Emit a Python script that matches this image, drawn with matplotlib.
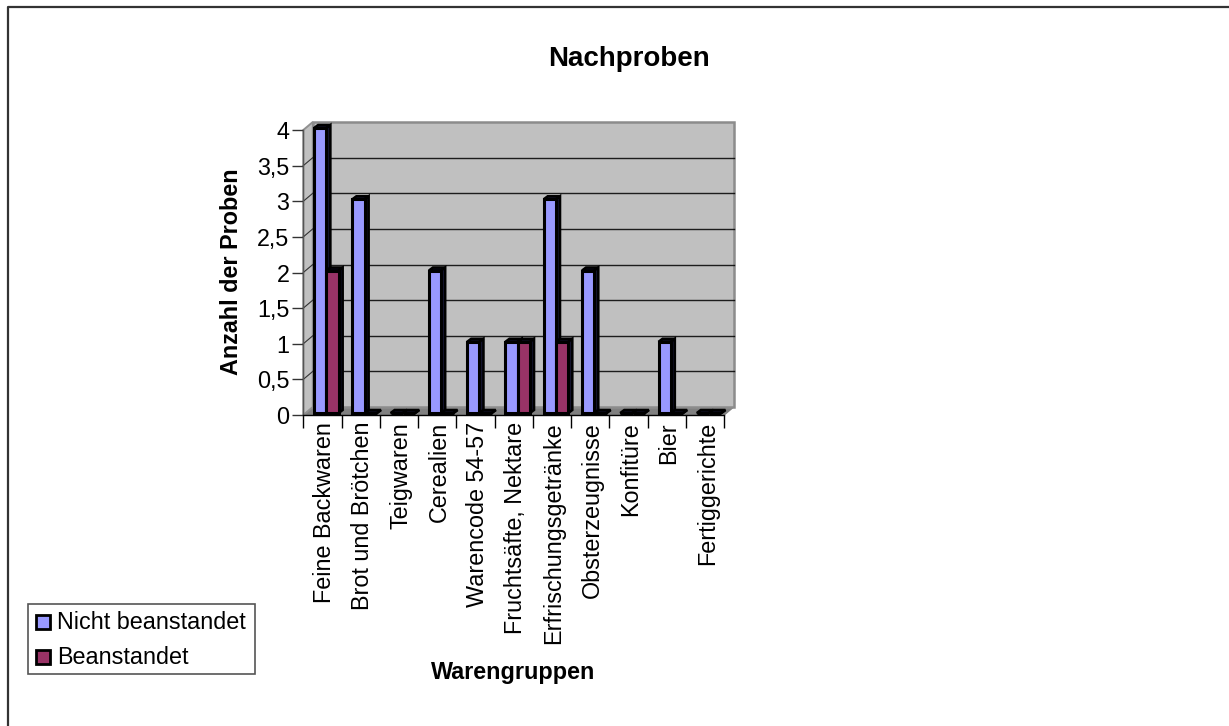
import numpy as np
import matplotlib
matplotlib.use("Agg")
import matplotlib.pyplot as plt
from matplotlib.lines import Line2D
from matplotlib.patches import Polygon, Rectangle
from matplotlib.transforms import ScaledTranslation

plt.rcParams['font.family'] = ['Liberation Sans', 'DejaVu Sans']

# Data
categories = ["Feine Backwaren", "Brot und Brötchen", "Teigwaren", "Cerealien",
              "Warencode 54-57", "Fruchtsäfte, Nektare", "Erfrischungsgetränke",
              "Obsterzeugnisse", "Konfitüre", "Bier", "Fertiggerichte"]
nicht_beanstandet = [4, 3, 0, 2, 1, 1, 3, 2, 0, 1, 0]
beanstandet = [2, 0, 0, 0, 0, 1, 1, 0, 0, 0, 0]
y_ticks = [0, 0.5, 1, 1.5, 2, 2.5, 3, 3.5, 4]
y_labels = ["0", "0,5", "1", "1,5", "2", "2,5", "3", "3,5", "4"]

W, H = 1229, 726
BLUE = "#9999ff"
RED = "#993366"
WALL = "#c0c0c0"
EDGE = "#808080"
FS = 16.8

fig = plt.figure(figsize=(W / 100, H / 100), dpi=100, facecolor="white")

# outer frame of the chart, only top and left are inside the picture
fig.add_artist(Line2D([8 / W, 8 / W, 1], [0, 1 - 7 / H, 1 - 7 / H], transform=fig.transFigure,
                      color="#333333", lw=1.6))

# front plane of the 3d box
left, right, top, bottom = 303.3, 724.3, 130, 415
ax = fig.add_axes([left / W, 1 - bottom / H, (right - left) / W, (bottom - top) / H])
ax.set_xlim(0, len(categories))
ax.set_ylim(0, 4)
ax.patch.set_visible(False)
for s in ax.spines.values():
    s.set_visible(False)

px = len(categories) / (right - left)
py = 4 / (bottom - top)
dx, dy = 9.5 * px, 8 * py
n = len(categories)


def poly(pts, **kw):
    ax.add_patch(Polygon(pts, closed=True, clip_on=False, **kw))


# walls and floor
poly([(0, 0), (dx, dy), (n + dx, dy), (n, 0)], fc=EDGE, ec=EDGE, lw=0.8, zorder=1)
poly([(0, 0), (dx, dy), (dx, 4 + dy), (0, 4)], fc=WALL, ec="#909090", lw=1.4, zorder=1)
poly([(dx, dy), (n + dx, dy), (n + dx, 4 + dy), (dx, 4 + dy)], fc=WALL, ec="#8c8c8c", lw=1.8, zorder=1)

# gridlines on the back wall and the slanted bit on the side wall
for v in y_ticks[1:-1]:
    ax.plot([dx, n + dx], [v + dy, v + dy], color="black", lw=1.0, alpha=0.85, clip_on=False, zorder=2)
    ax.plot([0, dx], [v, v + dy], color="#333333", lw=0.8, clip_on=False, zorder=2)

# bars
bar_w = 12.3 * px
off = 10.8 * px
by = 2.0 * py
cx, cy = 4.0 * px, 3.0 * py


def bar(x, v, color):
    x1 = x + bar_w
    y1 = v + by
    # top cap and side face
    poly([(x, y1), (x + cx, y1 + cy), (x1 + cx, y1 + cy), (x1, y1)], fc="#14142e", ec="black", lw=1.8, zorder=3)
    poly([(x1, by), (x1 + cx, by + cy), (x1 + cx, y1 + cy), (x1, y1)], fc="#14142e", ec="black", lw=1.8, zorder=3)
    ax.bar(x, v, width=bar_w, bottom=by, align="edge", color=color, edgecolor="black", lw=2.2,
           clip_on=False, zorder=4)


for i in range(n):
    bar(i + off, nicht_beanstandet[i], BLUE)
    bar(i + off + bar_w, beanstandet[i], RED)

# axes
ax.plot([0, 0], [0, 4], color="#555555", lw=1, clip_on=False, zorder=5)
ax.plot([0, n], [0, 0], color="black", lw=1, clip_on=False, zorder=5)
ax.set_yticks(y_ticks)
ax.set_yticklabels(y_labels, fontsize=FS)
ax.set_xticks(np.arange(n + 1))
ax.set_xticklabels([])
ax.set_xticks(np.arange(n) + 0.5, minor=True)
ax.set_xticklabels(categories, minor=True, rotation=90, fontsize=FS, va="top", ha="center")
ax.tick_params(axis="y", length=8, width=1, color="#333333", pad=2)
ax.tick_params(axis="x", which="major", length=9, width=1, direction="out")
ax.tick_params(axis="x", which="minor", length=0, pad=5)
# category labels sit a little right of the tick centre
shift = ScaledTranslation(2 / 100, 0, fig.dpi_scale_trans)
for lab in ax.get_xticklabels(minor=True):
    lab.set_transform(lab.get_transform() + shift)

fig.text(629.5 / W, 1 - 59.5 / H, "Nachproben", fontsize=20, fontweight="bold", ha="center", va="center")
fig.text(513 / W, 1 - 673 / H, "Warengruppen", fontsize=FS, fontweight="bold", ha="center", va="center")
fig.text(231 / W, 1 - 272 / H, "Anzahl der Proben", fontsize=FS, fontweight="bold", rotation=90,
         ha="center", va="center")

# legend
fig.add_artist(Rectangle((28 / W, 1 - 674 / H), 226.5 / W, 70 / H, transform=fig.transFigure,
                         fc="white", ec="#555555", lw=1.2))
for yy, col, lab in [(622, BLUE, "Nicht beanstandet"), (657, RED, "Beanstandet")]:
    fig.add_artist(Rectangle((36 / W, 1 - (yy + 7) / H), 14 / W, 14 / H, transform=fig.transFigure,
                             fc=col, ec="black", lw=2))
    fig.text(57 / W, 1 - (yy + 0.5) / H, lab, fontsize=FS, ha="left", va="center")

fig.savefig("out.png", dpi=100)
